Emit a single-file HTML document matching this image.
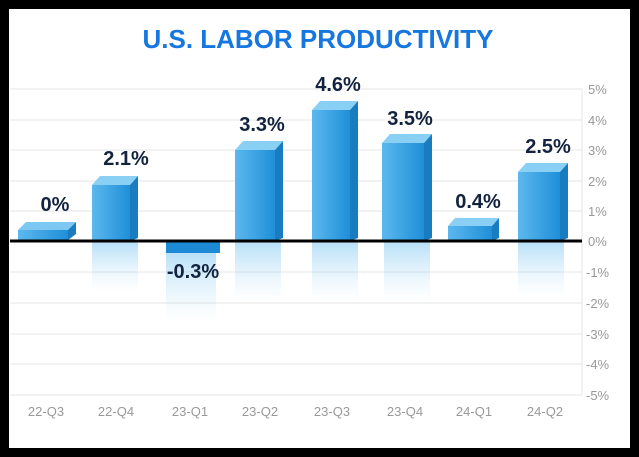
<!DOCTYPE html><html><head><style>body{margin:0;background:#000}svg{display:block}</style></head><body>
<svg width="639" height="457" viewBox="0 0 639 457" xmlns="http://www.w3.org/2000/svg" font-family="Liberation Sans, sans-serif">
<defs>
<linearGradient id="f" x1="0" x2="1"><stop offset="0" stop-color="#5cb8ee"/><stop offset="1" stop-color="#1f8fd8"/></linearGradient>
<linearGradient id="r" x1="0" y1="0" x2="0" y2="1"><stop offset="0" stop-color="#7cc6f2" stop-opacity=".55"/><stop offset="1" stop-color="#bfe3f8" stop-opacity="0"/></linearGradient>
</defs>
<rect x="9" y="9" width="621" height="439" fill="#fff"/>
<text x="318" y="48" text-anchor="middle" font-size="26" font-weight="bold" fill="#1677e0">U.S. LABOR PRODUCTIVITY</text>
<g stroke="#e4e4e4" stroke-width="1">
<line x1="10" y1="89" x2="582" y2="89"/><line x1="10" y1="120" x2="582" y2="120"/><line x1="10" y1="150" x2="582" y2="150"/><line x1="10" y1="181" x2="582" y2="181"/><line x1="10" y1="211" x2="582" y2="211"/>
<line x1="10" y1="272" x2="582" y2="272"/><line x1="10" y1="303" x2="582" y2="303"/><line x1="10" y1="334" x2="582" y2="334"/><line x1="10" y1="364" x2="582" y2="364"/><line x1="10" y1="395" x2="582" y2="395"/>
<line x1="582" y1="89" x2="582" y2="395"/>
</g>
<g font-size="13" fill="#999">
<text x="588" y="94">5%</text><text x="588" y="125">4%</text><text x="588" y="155">3%</text><text x="588" y="186">2%</text><text x="588" y="216">1%</text><text x="588" y="246">0%</text>
<text x="586" y="277">-1%</text><text x="586" y="308">-2%</text><text x="586" y="339">-3%</text><text x="586" y="369">-4%</text><text x="586" y="400">-5%</text>
</g>
<g font-size="13" fill="#999" text-anchor="middle">
<text x="46" y="416">22-Q3</text><text x="116" y="416">22-Q4</text><text x="190" y="416">23-Q1</text><text x="260" y="416">23-Q2</text><text x="332" y="416">23-Q3</text><text x="405" y="416">23-Q4</text><text x="474" y="416">24-Q1</text><text x="545" y="416">24-Q2</text>
</g>
<!-- reflections -->
<g fill="url(#r)">
<rect x="92" y="242" width="46" height="50"/><rect x="235" y="242" width="46" height="60"/><rect x="312" y="242" width="46" height="60"/><rect x="384" y="242" width="46" height="60"/><rect x="518" y="242" width="46" height="55"/><rect x="166" y="252" width="50" height="70"/>
</g>
<!-- bars: x, width w, top y -->
<g>
<!-- 22-Q3 0% slab -->
<polygon points="18,230 68,230 76,222 26,222" fill="#7cc8f2"/><rect x="18" y="230" width="50" height="10" fill="url(#f)"/><polygon points="68,230 76,222 76,234 68,240" fill="#1a7cc0"/>
<!-- 22-Q4 -->
<polygon points="92,185 130,185 138,176 100,176" fill="#8ad0f4"/><rect x="92" y="185" width="38" height="56" fill="url(#f)"/><polygon points="130,185 138,176 138,238 130,241" fill="#1a7cc0"/>
<!-- 23-Q1 -->
<rect x="166" y="241" width="54" height="12" fill="#1d8ad6"/>
<!-- 23-Q2 -->
<polygon points="235,150 275,150 283,141 243,141" fill="#8ad0f4"/><rect x="235" y="150" width="40" height="91" fill="url(#f)"/><polygon points="275,150 283,141 283,238 275,241" fill="#1a7cc0"/>
<!-- 23-Q3 -->
<polygon points="312,110 350,110 358,101 320,101" fill="#8ad0f4"/><rect x="312" y="110" width="38" height="131" fill="url(#f)"/><polygon points="350,110 358,101 358,238 350,241" fill="#1a7cc0"/>
<!-- 23-Q4 -->
<polygon points="382,143 424,143 432,134 390,134" fill="#8ad0f4"/><rect x="382" y="143" width="42" height="98" fill="url(#f)"/><polygon points="424,143 432,134 432,238 424,241" fill="#1a7cc0"/>
<!-- 24-Q1 -->
<polygon points="448,226 492,226 499,218 455,218" fill="#8ad0f4"/><rect x="448" y="226" width="44" height="15" fill="url(#f)"/><polygon points="492,226 499,218 499,238 492,241" fill="#1a7cc0"/>
<!-- 24-Q2 -->
<polygon points="518,172 560,172 568,163 526,163" fill="#8ad0f4"/><rect x="518" y="172" width="42" height="69" fill="url(#f)"/><polygon points="560,172 568,163 568,238 560,241" fill="#1a7cc0"/>
</g>
<line x1="10" y1="241" x2="582" y2="241" stroke="#000" stroke-width="3"/>
<g font-size="20" font-weight="bold" fill="#13233f" text-anchor="middle">
<text x="55" y="211">0%</text><text x="126" y="165">2.1%</text><text x="193" y="278">-0.3%</text><text x="262" y="131">3.3%</text><text x="338" y="91">4.6%</text><text x="410" y="125">3.5%</text><text x="478" y="208">0.4%</text><text x="548" y="153">2.5%</text>
</g>
</svg>
</body></html>
